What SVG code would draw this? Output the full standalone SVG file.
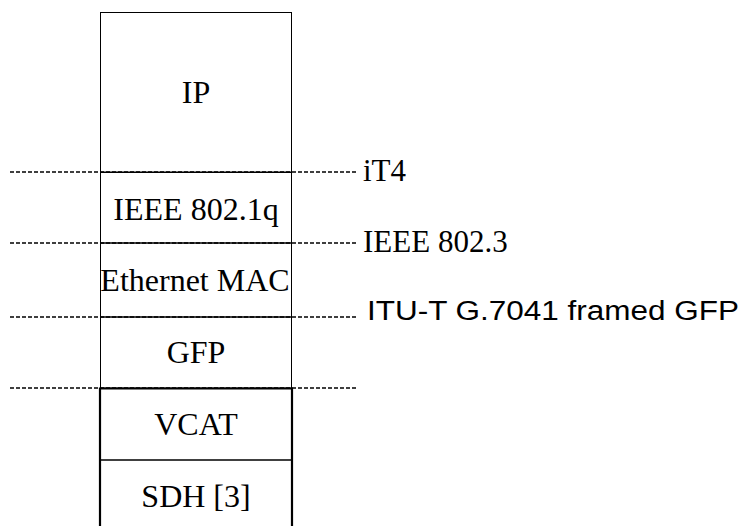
<svg xmlns="http://www.w3.org/2000/svg" width="743" height="526" viewBox="0 0 743 526">
<style>
.serif{font-family:"Liberation Serif","Times New Roman",serif;font-size:31px;fill:#000}
.box{font-size:32px}
.sans{font-family:"Liberation Sans",Arial,sans-serif;font-size:27px;fill:#000}
.c{text-anchor:middle}
.thin{fill:none;stroke:#000;stroke-width:1}
.thick{fill:none;stroke:#000;stroke-width:2.2}
.dash{fill:none;stroke:#000;stroke-width:1.5;stroke-dasharray:4 2}
</style>
<rect width="743" height="526" fill="#fff"/>
<g id="ip"><rect class="thin" x="100.5" y="12.5" width="191" height="160"/><text class="serif box c" x="196" y="103">IP</text></g>
<g id="ieee8021q"><rect class="thin" x="100.5" y="172" width="191" height="71"/><text class="serif box c" x="196" y="220">IEEE 802.1q</text></g>
<g id="ethmac"><rect class="thin" x="100.5" y="243" width="191" height="74"/><text class="serif box c" x="195" y="291">Ethernet MAC</text></g>
<g id="gfp"><rect class="thin" x="100.5" y="317" width="191" height="71"/><text class="serif box c" x="196" y="363">GFP</text></g>
<g id="vcat"><path class="thick" d="M100,560 V388.5 H292 V560"/><line class="thin" x1="100" y1="460" x2="292" y2="460" style="stroke-width:1.5"/><text class="serif box c" x="196" y="435">VCAT</text></g>
<g id="sdh"><text class="serif box c" x="196" y="507">SDH [3]</text></g>
<g id="connectors">
<line class="dash" x1="10" y1="172" x2="357" y2="172"/>
<line class="dash" x1="10" y1="243" x2="357" y2="243"/>
<line class="dash" x1="10" y1="317" x2="357" y2="317"/>
<line class="dash" x1="10" y1="388" x2="357" y2="388"/>
</g>
<g id="labels">
<text class="serif" x="363" y="181">iT4</text>
<text class="serif" x="363" y="252">IEEE 802.3</text>
<text class="sans" x="367" y="320" textLength="372" lengthAdjust="spacingAndGlyphs">ITU-T G.7041 framed GFP</text>
</g>
</svg>
